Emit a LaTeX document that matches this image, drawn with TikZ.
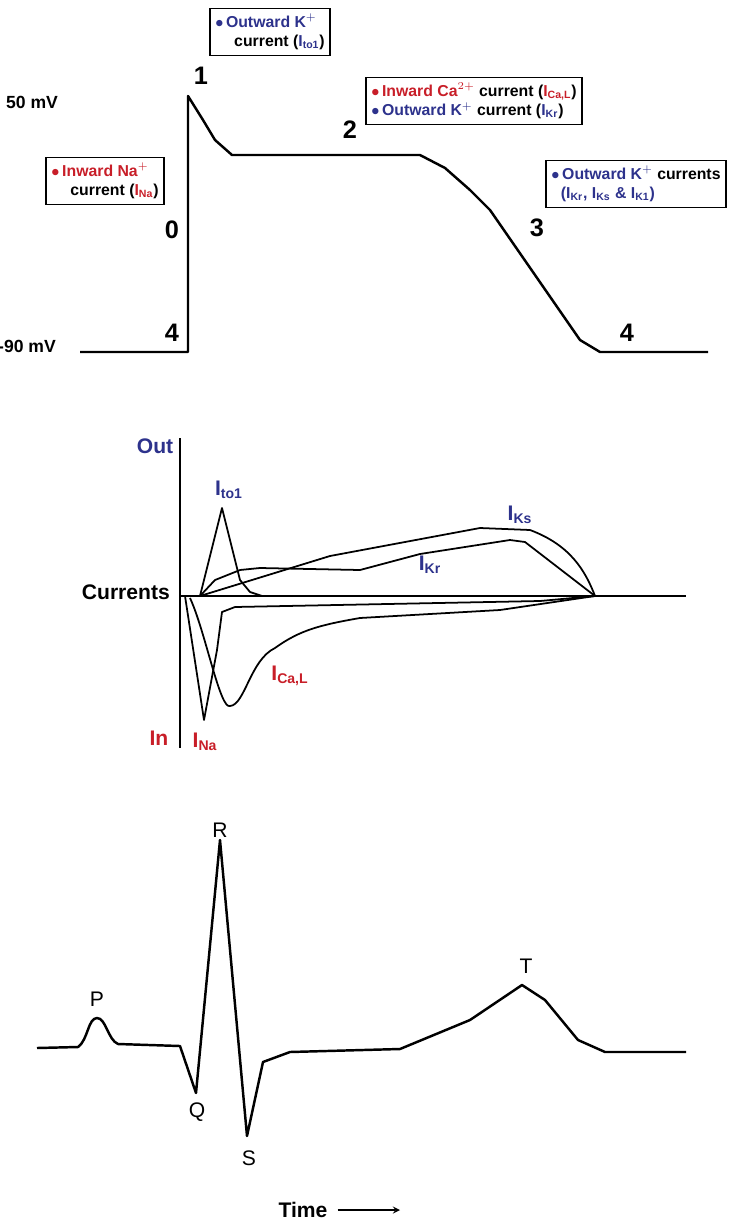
\documentclass[tikz,border=0pt]{standalone}
\usepackage{fontspec}
\setmainfont{Liberation Sans}
\definecolor{kblue}{RGB}{45,50,140}
\definecolor{nared}{RGB}{200,30,40}
\tikzset{
  trace/.style={line width=1.4pt, line join=round},
  thin trace/.style={line width=1pt, line join=round},
  infobox/.style={draw, line width=0.8pt, align=left, inner sep=3pt, font=\bfseries\small},
  phase/.style={font=\bfseries\Large},
  wave/.style={font=\large}
}
\newcommand{\kdot}{\textcolor{kblue}{$\bullet$}}
\newcommand{\nadot}{\textcolor{nared}{$\bullet$}}
\begin{document}
\begin{tikzpicture}[x=0.02cm, y=-0.02cm]
				\useasboundingbox (0,0) rectangle (737,1227);

				% Action potential
				\draw[trace] (80,352) -- (188,352) -- (188,96) -- (203,120) -- (215,140) -- (232,155)
				  -- (420,155) -- (445,168) -- (470,190) -- (490,210) -- (580,340) -- (600,352) -- (708,352);
				\node[font=\bfseries, anchor=west] (top) at (0,102) {50 mV};
				\node[font=\bfseries, anchor=west] (bottom) at (-8,346) {-90 mV};
				\node[phase] (p0) at (172,230) {0};
				\node[phase] (p1) at (201,76) {1};
				\node[phase] (p2) at (350,130) {2};
				\node[phase] (p3) at (537,228) {3};
				\node[phase] (p4a) at (172,333) {4};
				\node[phase] (p4b) at (627,333) {4};
				\node[infobox] (nabox) at (105,181) {\nadot\,\textcolor{nared}{Inward Na$^+$}\\\hspace*{1.2em}current (\textcolor{nared}{I\textsubscript{Na}})};
				\node[infobox] (tobox) at (270,32) {\kdot\,\textcolor{kblue}{Outward K$^+$}\\\hspace*{1.2em}current (\textcolor{kblue}{I\textsubscript{to1}})};
				\node[infobox] (cabox) at (474,101) {\nadot\,\textcolor{nared}{Inward Ca$^{2+}$} current (\textcolor{nared}{I\textsubscript{Ca,L}})\\\kdot\,\textcolor{kblue}{Outward K$^+$} current (\textcolor{kblue}{I\textsubscript{Kr}})};
				\node[infobox] (kbox) at (636,184) {\kdot\,\textcolor{kblue}{Outward K$^+$} currents\\\hspace*{0.6em}\textcolor{kblue}{(I\textsubscript{Kr}, I\textsubscript{Ks} \& I\textsubscript{K1})}};

				% Currents
				\draw[trace] (180,438) -- (180,748);
				\draw[trace] (180,596) -- (686,596);
				\node[font=\bfseries\large, anchor=east] (cur) at (176,592) {Currents};
				\node[font=\bfseries\large, text=kblue] (out) at (155,446) {Out};
				\node[font=\bfseries\large, text=nared] (in) at (159,738) {In};
				\draw[thin trace] (200,596) -- (222,508) -- (240,580) -- (250,592) -- (262,596);
				\draw[thin trace] (200,596) -- (330,556) -- (480,528) -- (530,530) .. controls (570,545) and (585,570) .. (595,596);
				\draw[thin trace] (200,596) -- (215,580) -- (240,570) -- (260,568) -- (360,570) -- (420,554) -- (510,540) -- (525,542) -- (595,596);
				\draw[thin trace] (185,596) -- (204,720) -- (217,650) -- (222,612) -- (235,607) -- (540,601) -- (595,596);
				\draw[thin trace] (190,598) .. controls (205,630) and (220,710) .. (230,706)
				  .. controls (245,705) and (250,660) .. (275,648) .. controls (300,630) and (320,625) .. (360,618) -- (500,610) -- (595,596);
				\node[font=\bfseries\large, text=kblue] (ito) at (229,490) {I\textsubscript{to1}};
				\node[font=\bfseries\large, text=kblue] (iks) at (520,515) {I\textsubscript{Ks}};
				\node[font=\bfseries\large, text=kblue] (ikr) at (430,565) {I\textsubscript{Kr}};
				\node[font=\bfseries\large, text=nared] (ical) at (290,676) {I\textsubscript{Ca,L}};
				\node[font=\bfseries\large, text=nared] (ina) at (205,742) {I\textsubscript{Na}};

				% ECG
				\draw[trace] (37,1048) -- (78,1047) .. controls (88,1040) and (88,1018) .. (97,1018)
				  .. controls (106,1018) and (108,1040) .. (118,1044) -- (180,1046) -- (196,1093) -- (220,840) -- (247,1136)
				  -- (263,1062) -- (290,1052) -- (400,1049) -- (470,1020) -- (522,985) -- (545,1000) -- (578,1040) -- (605,1052) -- (686,1052);
				\node[wave] (wP) at (97,999) {P};
				\node[wave] (wR) at (220,830) {R};
				\node[wave] (wQ) at (197,1112) {Q};
				\node[wave] (wS) at (249,1158) {S};
				\node[wave] (wT) at (526,966) {T};
				\node[font=\bfseries\large] (time) at (303,1210) {Time};
				\coordinate (tend) at (400,1210);
				\draw[thick, -stealth] (time.east) ++(4,0) -- (tend);
			\end{tikzpicture}
\end{document}
